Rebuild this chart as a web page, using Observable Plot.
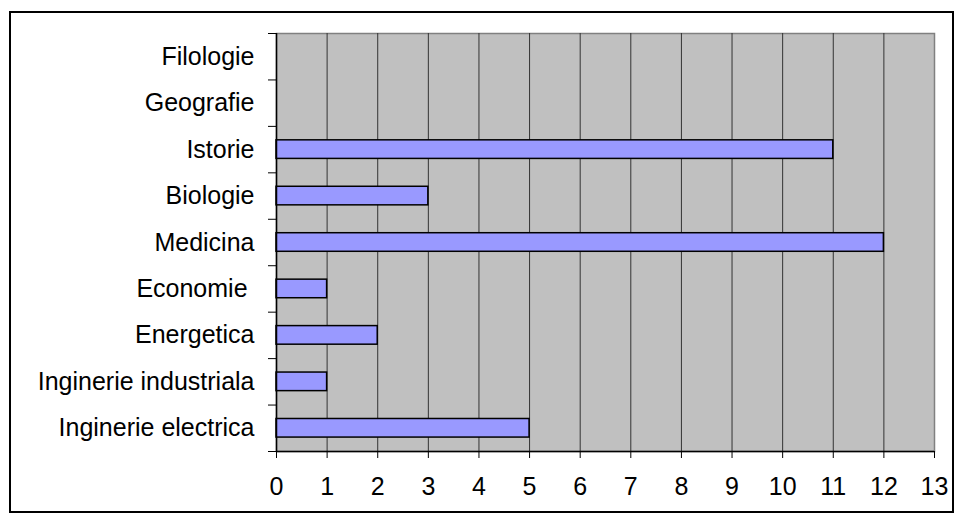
<!DOCTYPE html>
<html><head><meta charset="utf-8">
<script src="https://cdn.jsdelivr.net/npm/d3@7"></script>
<script src="https://cdn.jsdelivr.net/npm/@observablehq/plot@0.6"></script>
<style>
html,body{margin:0;padding:0;background:#fff;}
#wrap{position:relative;width:958px;height:527px;}
#border{position:absolute;left:9px;top:11px;width:945px;height:502px;border:2px solid #000;box-sizing:border-box;pointer-events:none;}
svg{font-family:"Liberation Sans",Arial,sans-serif;}
</style>
</head><body>
<div id="wrap"><div id="border"></div><div id="chart"></div></div>
<script>
// categories listed from top to bottom
const categories = ["Filologie","Geografie","Istorie","Biologie","Medicina","Economie\u00a0","Energetica","Inginerie industriala","Inginerie electrica"];
const values = [0,0,11,3,12,1,2,1,5];
const xTicks = [0,1,2,3,4,5,6,7,8,9,10,11,12,13];

const n = categories.length;
const rows = categories.map((c,i)=>({name:c, value:values[i], pos:n-1-i}));
const bounds = d3.range(n+1);
const grid = xTicks.slice(1, -1);

const chart = Plot.plot({
  width: 958, height: 527,
  marginLeft: 276, marginTop: 33, marginRight: 24, marginBottom: 76,
  style: {fontSize: "25px", fontFamily: '"Liberation Sans",Arial,sans-serif', background: "transparent", color: "#000"},
  x: {domain: [0, 13], ticks: xTicks, label: null},
  y: {domain: [0, n], label: null},
  marks: [
    Plot.frame({fill: "#C0C0C0", stroke: "#808080", strokeWidth: 1.5}),
    Plot.ruleX(grid, {x: d=>d, stroke: "#333", strokeWidth: 1}),
    Plot.rectX(rows.filter(d=>d.value>0), {x1: 0, x2: "value", y1: d=>d.pos+0.3, y2: d=>d.pos+0.7, fill: "#9999FF", stroke: "#000", strokeWidth: 1.5}),
    Plot.axisX({ticks: xTicks, tickSize: 7, tickPadding: 19, fontSize: 25, stroke: "#000", label: null}),
    Plot.ruleY([0], {stroke: "#000", strokeWidth: 1.5}),
    Plot.ruleX([0], {stroke: "#000", strokeWidth: 1.5}),
    Plot.axisY({ticks: bounds, tickSize: 8, tickFormat: ()=>"", stroke: "#000", label: null}),
    Plot.text(rows, {x: 0, y: d=>d.pos+0.5, text: "name", textAnchor: "end", dx: -22, fontSize: 25, fill: "#000"})
  ]
});
document.getElementById("chart").appendChild(chart);
</script>
</body></html>
